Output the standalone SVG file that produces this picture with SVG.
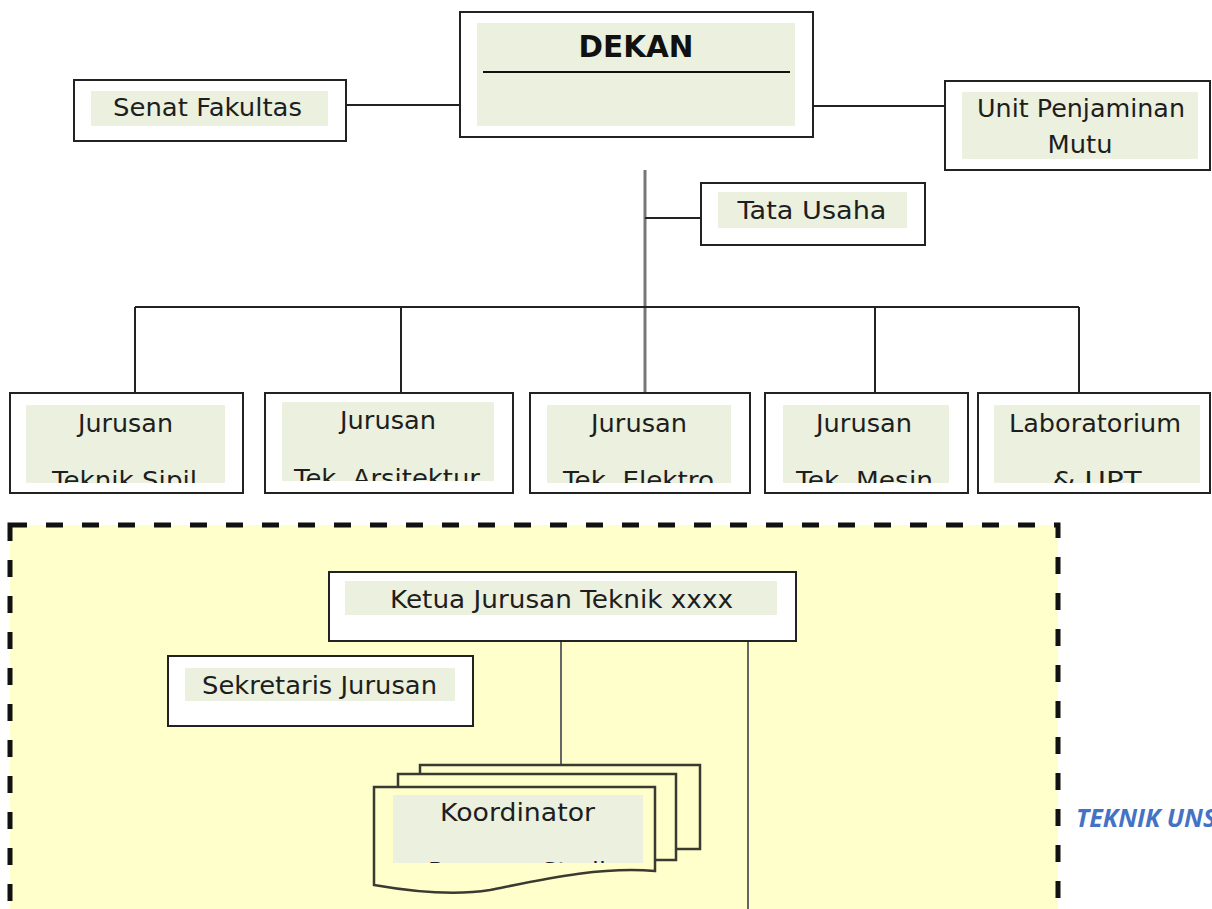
<svg xmlns="http://www.w3.org/2000/svg" width="1212" height="909" viewBox="0 0 1212 909">
<style>
.box{fill:#ffffff;stroke:#222;stroke-width:2}
.g{fill:#EBF1DE}
.t{font-family:"DejaVu Sans","Liberation Sans",sans-serif;font-size:25px;fill:#1e1e1e;text-anchor:middle}
.ln{stroke:#222;stroke-width:2;fill:none}
.gl{stroke:#666;stroke-width:2;fill:none}
.pg{fill:#FFFFCC;stroke:#3a3a30;stroke-width:2.5}
</style>
<defs>
<clipPath id="c1"><rect x="26" y="405" width="199" height="78"/></clipPath>
<clipPath id="c2"><rect x="282" y="402" width="212" height="79"/></clipPath>
<clipPath id="c3"><rect x="547" y="405" width="184" height="78"/></clipPath>
<clipPath id="c4"><rect x="783" y="405" width="166" height="78"/></clipPath>
<clipPath id="c5"><rect x="994" y="405" width="206" height="78"/></clipPath>
<clipPath id="c6"><rect x="393" y="795" width="250" height="68"/></clipPath>
</defs>
<rect width="1212" height="909" fill="#ffffff"/>

<text x="1076" y="827" font-family="'Open Sans','DejaVu Sans',sans-serif" font-size="25" font-weight="bold" font-style="italic" fill="#4472C4">TEKNIK UNS</text>

<g id="connectors">
<line class="ln" x1="346" y1="105" x2="460" y2="105"/>
<line class="ln" x1="813" y1="106" x2="945" y2="106"/>
<line x1="645" y1="170" x2="645" y2="393" stroke="#777" stroke-width="3"/>
<line class="ln" x1="645" y1="218" x2="701" y2="218"/>
<line class="ln" x1="135" y1="307" x2="1079" y2="307"/>
<line class="ln" x1="135" y1="307" x2="135" y2="402"/>
<line class="ln" x1="401" y1="307" x2="401" y2="393"/>
<line class="ln" x1="875" y1="307" x2="875" y2="393"/>
<line class="ln" x1="1079" y1="307" x2="1079" y2="393"/>
</g>

<g id="dekan">
<rect class="box" x="460" y="12" width="353" height="125"/>
<rect class="g" x="477" y="23" width="318" height="103"/>
<text x="636" y="57" font-family="'DejaVu Sans','Liberation Sans',sans-serif" font-size="31" font-weight="bold" fill="#111" text-anchor="middle" textLength="115" lengthAdjust="spacingAndGlyphs">DEKAN</text>
<line x1="483" y1="72" x2="790" y2="72" stroke="#111" stroke-width="2"/>
</g>

<g id="senat">
<rect class="box" x="74" y="80" width="272" height="61"/>
<rect class="g" x="91" y="91" width="237" height="35"/>
<text class="t" x="207.5" y="116" textLength="189" lengthAdjust="spacingAndGlyphs">Senat Fakultas</text>
</g>

<g id="upm">
<rect class="box" x="945" y="81" width="265" height="89"/>
<rect class="g" x="962" y="92" width="236" height="67"/>
<text class="t" x="1081" y="117" textLength="208" lengthAdjust="spacingAndGlyphs">Unit Penjaminan</text>
<text class="t" x="1080" y="153" textLength="65" lengthAdjust="spacingAndGlyphs">Mutu</text>
</g>

<g id="tatausaha">
<rect class="box" x="701" y="183" width="224" height="62"/>
<rect class="g" x="718" y="192" width="189" height="36"/>
<text class="t" x="812" y="219" textLength="149" lengthAdjust="spacingAndGlyphs">Tata Usaha</text>
</g>

<g id="jur-sipil">
<rect class="box" x="10" y="393" width="233" height="100"/>
<rect class="g" x="26" y="405" width="199" height="78"/>
<text class="t" x="125.5" y="432" textLength="95" lengthAdjust="spacingAndGlyphs">Jurusan</text>
<text class="t" x="124.5" y="489" clip-path="url(#c1)" textLength="145" lengthAdjust="spacingAndGlyphs">Teknik Sipil</text>
</g>

<g id="jur-arsitektur">
<rect class="box" x="265" y="393" width="248" height="100"/>
<rect class="g" x="282" y="402" width="212" height="79"/>
<text class="t" x="388" y="429" textLength="96" lengthAdjust="spacingAndGlyphs">Jurusan</text>
<text class="t" x="387" y="487" clip-path="url(#c2)" textLength="186" lengthAdjust="spacingAndGlyphs">Tek. Arsitektur</text>
</g>

<g id="jur-elektro">
<rect class="box" x="530" y="393" width="220" height="100"/>
<rect class="g" x="547" y="405" width="184" height="78"/>
<text class="t" x="639" y="432" textLength="96" lengthAdjust="spacingAndGlyphs">Jurusan</text>
<text class="t" x="638.5" y="489" clip-path="url(#c3)" textLength="151" lengthAdjust="spacingAndGlyphs">Tek. Elektro</text>
</g>

<g id="jur-mesin">
<rect class="box" x="765" y="393" width="203" height="100"/>
<rect class="g" x="783" y="405" width="166" height="78"/>
<text class="t" x="864" y="432" textLength="96" lengthAdjust="spacingAndGlyphs">Jurusan</text>
<text class="t" x="864.5" y="489" clip-path="url(#c4)" textLength="137" lengthAdjust="spacingAndGlyphs">Tek. Mesin</text>
</g>

<g id="lab-upt">
<rect class="box" x="978" y="393" width="232" height="100"/>
<rect class="g" x="994" y="405" width="206" height="78"/>
<text class="t" x="1095" y="432" textLength="172" lengthAdjust="spacingAndGlyphs">Laboratorium</text>
<text class="t" x="1097" y="489" clip-path="url(#c5)" textLength="89" lengthAdjust="spacingAndGlyphs">&amp; UPT</text>
</g>

<g id="jurusan-detail">
<rect x="10" y="525" width="1048" height="400" fill="#FFFFCC" stroke="#111" stroke-width="5" stroke-dasharray="17 19"/>
</g>

<g id="detail-connectors">
<line class="gl" x1="561" y1="641" x2="561" y2="765"/>
<line class="gl" x1="748" y1="641" x2="748" y2="909"/>
</g>

<g id="ketua">
<rect class="box" x="329" y="572" width="467" height="69"/>
<rect class="g" x="345" y="581" width="432" height="34"/>
<text class="t" x="561.5" y="608" textLength="343" lengthAdjust="spacingAndGlyphs">Ketua Jurusan Teknik xxxx</text>
</g>

<g id="sekretaris">
<rect class="box" x="168" y="656" width="305" height="70"/>
<rect class="g" x="185" y="668" width="270" height="33"/>
<text class="t" x="319.5" y="694" textLength="235" lengthAdjust="spacingAndGlyphs">Sekretaris Jurusan</text>
</g>

<g id="koordinator">
<rect class="pg" x="420" y="765" width="280" height="84"/>
<rect class="pg" x="398" y="774" width="278" height="86"/>
<path class="pg" d="M374,787 L655,787 L655,871 C600,866 540,880 490,890 C460,895 420,893 374,885 Z"/>
<rect class="g" x="393" y="795" width="250" height="68"/>
<text class="t" x="517.5" y="821" textLength="155" lengthAdjust="spacingAndGlyphs">Koordinator</text>
<text class="t" x="517" y="880" clip-path="url(#c6)">Program Studi</text>
</g>
</svg>
